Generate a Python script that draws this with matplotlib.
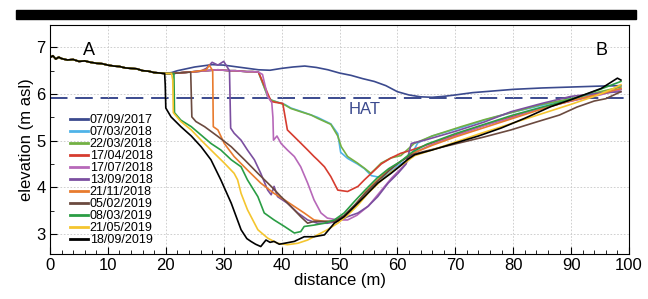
import matplotlib
matplotlib.use("Agg")
import matplotlib.pyplot as plt
from matplotlib.patches import Rectangle
from matplotlib.ticker import MultipleLocator

plt.rcParams['font.family'] = ['Liberation Sans', 'DejaVu Sans']

# survey dates (legend order)
dates = ['07/09/2017', '07/03/2018', '22/03/2018', '17/04/2018', '17/07/2018',
         '13/09/2018', '21/11/2018', '05/02/2019', '08/03/2019', '21/05/2019',
         '18/09/2019']
colors = ['#3b4a8e', '#4fb3e8', '#72b043', '#d63c2f', '#b768b9',
          '#7b4fa0', '#e87b2e', '#6b4a3f', '#2a9d44', '#f4c52f', '#000000']

HAT = 5.91

# shared dune crest 0-20 m
crest_x = [0, 0.5, 1, 1.5, 2, 3, 4, 5, 6, 7, 8, 9, 10, 11, 12, 13, 14, 15, 16, 17, 18, 19, 19.8]
crest_y = [6.78, 6.82, 6.75, 6.79, 6.76, 6.73, 6.74, 6.7, 6.71, 6.68, 6.66, 6.65, 6.62,
           6.6, 6.59, 6.56, 6.55, 6.54, 6.5, 6.49, 6.46, 6.45, 6.44]
# plateau 20-36 m for uneroded surveys
plat_x = [21, 22, 23, 24, 25, 26, 27, 28, 29, 30, 31, 32, 33, 34, 35, 36]
plat_y = [6.44, 6.45, 6.46, 6.47, 6.48, 6.49, 6.5, 6.51, 6.52, 6.51, 6.5, 6.5, 6.49, 6.48, 6.48, 6.47]

s2017_x = [21, 22, 25, 28, 30, 33, 36, 38, 40, 42, 44, 46, 48, 50, 52, 54, 56, 58, 60, 62,
           64, 66, 68, 70, 73, 76, 80, 85, 90, 95, 98.6]
s2017_y = [6.46, 6.5, 6.58, 6.63, 6.62, 6.57, 6.52, 6.51, 6.55, 6.58, 6.6, 6.57, 6.52, 6.45,
           6.4, 6.33, 6.27, 6.18, 6.05, 5.98, 5.94, 5.93, 5.95, 5.98, 6.03, 6.06, 6.1, 6.13,
           6.15, 6.17, 6.18]

s0703_x = [37.6, 38.2, 40.5, 41.6, 43.3, 45.1, 46.2, 48.5, 49.7, 50.2, 51.4, 53.1, 54.3, 55.5,
           57.5, 59, 60.5, 62, 63.5, 66, 71, 75, 79.6, 85, 90, 95, 98.6]
s0703_y = [5.95, 5.87, 5.78, 5.7, 5.63, 5.55, 5.5, 5.36, 5.15, 4.75, 4.62, 4.5, 4.4, 4.25,
           4.2, 4.35, 4.5, 4.6, 4.95, 5.1, 5.28, 5.44, 5.6, 5.76, 5.9, 6.02, 6.1]

s2203_x = [37.6, 38.2, 40.5, 41.6, 43.3, 45.1, 46.2, 48.5, 49.7, 50.3, 51.4, 53.1, 54.3, 55.4,
           56.0, 57.2, 58.9, 60.6, 62.9, 66, 71, 75, 79.6, 85, 90, 95, 98.6]
s2203_y = [5.95, 5.87, 5.77, 5.69, 5.62, 5.55, 5.48, 5.35, 5.1, 4.87, 4.66, 4.52, 4.41, 4.3,
           4.37, 4.52, 4.63, 4.68, 4.94, 5.1, 5.3, 5.45, 5.6, 5.78, 5.9, 6.05, 6.15]

s1704_x = [37.3, 38.2, 39, 40.2, 41.0, 42.8, 44.5, 45.6, 46.2, 47.4, 48.5, 49.7, 51.4, 53.2,
           54.3, 55.5, 57.2, 58.9, 60.6, 62.5, 66, 70, 75, 80, 85, 90, 95, 98.6]
s1704_y = [6.1, 5.84, 5.82, 5.8, 5.23, 5.01, 4.8, 4.66, 4.59, 4.44, 4.23, 3.94, 3.91, 4.02,
           4.16, 4.3, 4.5, 4.63, 4.73, 4.8, 4.95, 5.12, 5.33, 5.52, 5.7, 5.85, 6.0, 6.1]

s1707_x = [36.7, 37.6, 38.3, 38.5, 38.6, 39.2, 39.9, 41.0, 42.2, 43.3, 44.5, 45.6, 46.8, 47.9,
           49.7, 51.4, 53, 55, 57, 59, 61, 63, 66, 70, 75, 80, 85, 90, 95, 98.6]
s1707_y = [6.42, 5.94, 5.82, 5.5, 5.01, 5.1, 4.94, 4.8, 4.66, 4.44, 4.09, 3.73, 3.45, 3.34,
           3.3, 3.3, 3.4, 3.6, 3.9, 4.2, 4.45, 4.75, 4.92, 5.1, 5.32, 5.5, 5.7, 5.85, 5.98, 6.1]

s1309_x = [27, 28, 29, 30, 31.0, 31.2, 31.8, 33.0, 34.1, 35.3, 36.4, 37.6, 38.2, 38.7, 39.3,
           41.0, 42.8, 44.5, 46.2, 47.9, 49.7, 51.4, 53.2, 54.9, 56.6, 58.4, 60.1, 61.5, 62.4,
           65, 70, 75, 79.6, 85, 90, 95, 98.6]
s1309_y = [6.55, 6.68, 6.62, 6.7, 6.5, 5.27, 5.16, 5.01, 4.8, 4.59, 4.3, 3.94, 3.84, 4.02, 3.8,
           3.66, 3.45, 3.3, 3.23, 3.23, 3.27, 3.37, 3.45, 3.59, 3.8, 4.09, 4.3, 4.5, 4.94,
           5.02, 5.2, 5.4, 5.62, 5.8, 5.95, 6.02, 6.05]

s2111_x = [26, 27, 27.5, 28.1, 28.2, 29.0, 30.1, 31.8, 34.1, 36.4, 38.7, 40.5, 42.2, 43.9,
           45.6, 47.4, 49.1, 50.8, 52.6, 54.5, 56.5, 58.5, 60.5, 62.5, 66, 70, 75, 80, 85,
           90, 95, 98.6]
s2111_y = [6.5, 6.52, 6.62, 6.5, 5.3, 5.23, 4.94, 4.66, 4.37, 4.09, 3.87, 3.73, 3.59, 3.45,
           3.3, 3.27, 3.27, 3.38, 3.6, 3.9, 4.15, 4.38, 4.55, 4.72, 4.9, 5.08, 5.28, 5.48,
           5.68, 5.86, 6.0, 6.12]

s0502_x = [22, 23, 24.3, 24.5, 25.2, 26.7, 29.0, 31.3, 33.6, 35.9, 38.2, 39.9, 41.6, 43.3,
           44.5, 45.6, 47.4, 49.1, 50.8, 52.6, 54.5, 56.5, 58.5, 60.5, 62.5, 65, 70, 75,
           79.6, 84, 88, 91, 94, 96, 98.6]
s0502_y = [6.45, 6.46, 6.47, 5.51, 5.41, 5.3, 5.09, 4.87, 4.59, 4.3, 4.02, 3.8, 3.59, 3.37,
           3.23, 3.27, 3.27, 3.27, 3.4, 3.62, 3.88, 4.12, 4.35, 4.55, 4.7, 4.78, 4.93, 5.08,
           5.23, 5.4, 5.55, 5.72, 5.85, 5.9, 6.05]

s0803_x = [21, 21.4, 21.5, 22.6, 24.4, 26.1, 27.8, 29.5, 31.3, 33.0, 34.1, 35.9, 37.0, 38.7,
           40.5, 42.2, 43.3, 43.9, 45.6, 47.4, 49.1, 50.8, 52.6, 54.5, 56.5, 58.5, 60.5,
           62.5, 65, 70, 75, 80, 85, 90, 95, 98.6]
s0803_y = [6.44, 6.44, 5.6, 5.44, 5.3, 5.12, 4.94, 4.8, 4.59, 4.44, 4.16, 3.8, 3.45, 3.3,
           3.16, 3.02, 3.05, 3.16, 3.19, 3.23, 3.3, 3.45, 3.7, 3.95, 4.2, 4.4, 4.55, 4.75,
           4.92, 5.15, 5.35, 5.55, 5.72, 5.88, 6.1, 6.27]

s2105_x = [21.0, 21.2, 21.3, 22.6, 24.4, 26.1, 27.8, 30.1, 31.8, 32.4, 33.0, 34.1, 35.9,
           37.6, 39.3, 41.0, 42.8, 44.5, 46.2, 47.9, 49.7, 51.4, 53.2, 55, 57, 59, 61, 63,
           66, 70, 74, 78, 82, 86, 90, 94, 97, 98.6]
s2105_y = [6.44, 6.3, 5.6, 5.41, 5.23, 5.01, 4.8, 4.52, 4.3, 4.16, 3.87, 3.52, 3.09, 2.91,
           2.8, 2.77, 2.8, 2.87, 2.98, 3.09, 3.23, 3.4, 3.62, 3.88, 4.12, 4.33, 4.5, 4.68,
           4.8, 4.97, 5.14, 5.3, 5.46, 5.62, 5.78, 5.95, 6.1, 6.2]

s1809_x = [19.9, 20.0, 20.9, 22.6, 24.4, 26.1, 27.8, 29.5, 31.3, 33.0, 34.0, 34.7, 35.5,
           36.4, 37.3, 38.0, 38.7, 39.6, 40.5, 42.2, 43.9, 45.6, 47.4, 49.1, 50.8, 52.6,
           54.3, 56.6, 58.9, 60.3, 61.8, 63, 66, 70, 74, 77.9, 82, 86.5, 90, 95.2, 98, 98.6]
s1809_y = [6.2, 5.7, 5.51, 5.3, 5.1, 4.87, 4.59, 4.16, 3.66, 3.09, 2.9, 2.84, 2.78, 2.73,
           2.87, 2.82, 2.84, 2.78, 2.8, 2.84, 2.94, 2.94, 2.98, 3.23, 3.37, 3.59, 3.8, 4.09,
           4.3, 4.44, 4.6, 4.7, 4.8, 4.95, 5.1, 5.27, 5.48, 5.73, 5.88, 6.12, 6.34, 6.3]


def before(xs, ys, x_end):
    # points of a base profile lying before x_end
    pts = [(a, b) for a, b in zip(xs, ys) if a < x_end]
    return [p[0] for p in pts], [p[1] for p in pts]


base_x = crest_x + plat_x
base_y = crest_y + plat_y

series = [
    (crest_x + s2017_x, crest_y + s2017_y),
    (base_x + s0703_x, base_y + s0703_y),
    (base_x + s2203_x, base_y + s2203_y),
    (base_x + s1704_x, base_y + s1704_y),
    (base_x + s1707_x, base_y + s1707_y),
]
for sx, sy in [(s1309_x, s1309_y), (s2111_x, s2111_y), (s0502_x, s0502_y),
               (s0803_x, s0803_y), (s2105_x, s2105_y)]:
    bx, by = before(base_x, base_y, sx[0])
    series.append((bx + sx, by + sy))
series.append((crest_x + s1809_x, crest_y + s1809_y))

fig = plt.figure(figsize=(6.48, 2.99), dpi=100)
ax = fig.add_axes([50 / 648, 1 - 254 / 299, 579 / 648, 229 / 299])

# black banner above the plot
fig.patches.append(Rectangle((16 / 648, 1 - 19 / 299), 620 / 648, 9 / 299,
                             transform=fig.transFigure, color='black', zorder=0))

lines = []
for (x, y), c, lab in zip(series, colors, dates):
    ln, = ax.plot(x, y, color=c, lw=1.2, label=lab)
    lines.append(ln)

ax.axhline(HAT, color='#3b4a8e', lw=1.4, dashes=(9, 4), zorder=1)
ax.text(54.4, 5.66, 'HAT', color='#3b4a8e', fontsize=12, ha='center', va='center')
ax.text(6.8, 6.93, 'A', fontsize=13, ha='center', va='center')
ax.text(95.2, 6.93, 'B', fontsize=13, ha='center', va='center')

ax.set_xlim(0, 100)
ax.set_ylim(2.57, 7.48)
ax.xaxis.set_major_locator(MultipleLocator(10))
ax.xaxis.set_minor_locator(MultipleLocator(2))
ax.yaxis.set_major_locator(MultipleLocator(1))
ax.yaxis.set_minor_locator(MultipleLocator(0.5))
ax.tick_params(which='both', direction='in', labelsize=12, pad=3)
ax.tick_params(which='major', length=5)
ax.tick_params(which='minor', length=3)
ax.grid(True, which='major', color='#c8c8c8', ls=(0, (2, 2)), lw=0.6)
ax.set_xlabel('distance (m)', fontsize=12, labelpad=0)
ax.set_ylabel('elevation (m asl)', fontsize=12, labelpad=2)

leg = ax.legend(loc='upper left', bbox_to_anchor=(0.035, 0.61), frameon=False,
                fontsize=9, labelspacing=0.0, handlelength=1.4, handletextpad=0.15,
                borderpad=0, borderaxespad=0)
for h in leg.legend_handles:
    h.set_linewidth(2)

fig.savefig('out.png', dpi=100)
